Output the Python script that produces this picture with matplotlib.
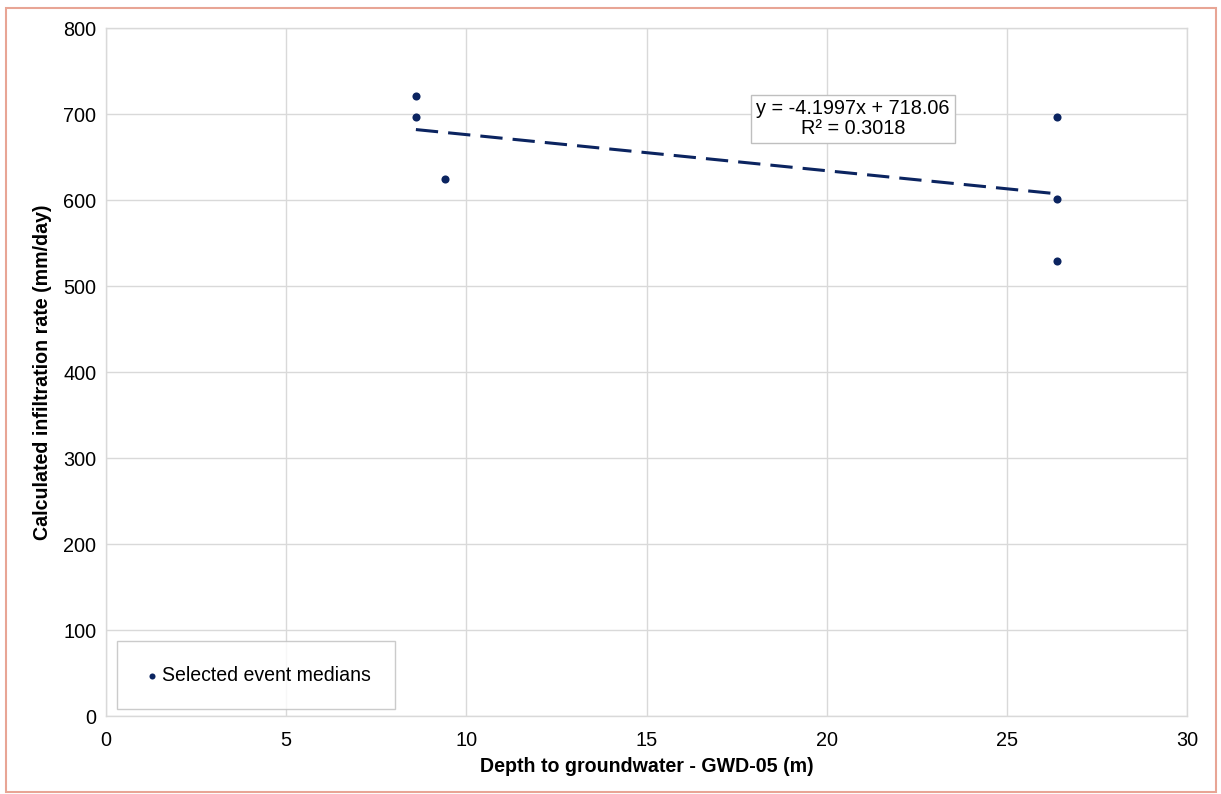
import matplotlib
matplotlib.use("Agg")
import matplotlib.pyplot as plt
from matplotlib.patches import Rectangle
import numpy as np

plt.rcParams['font.family'] = ['Liberation Sans', 'DejaVu Sans']

# Event medians: depth to groundwater (m) vs calculated infiltration rate (mm/day)
depth_m = [8.6, 8.6, 9.4, 26.4, 26.4, 26.4]
infiltration_mm_day = [721, 697, 624, 697, 601, 529]

# Linear trend coefficients as reported
slope = -4.1997
intercept = 718.06
r_squared = 0.3018

x_ticks = [0, 5, 10, 15, 20, 25, 30]
y_ticks = [0, 100, 200, 300, 400, 500, 600, 700, 800]

navy = '#0B2460'
grid_col = '#D9D9D9'
fs = 14.3
fs_label = 14.1

fig = plt.figure(figsize=(12.21, 7.94), dpi=100)
ax = fig.add_axes([0.0868, 0.0982, 0.8854, 0.8665])

ax.scatter(depth_m, infiltration_mm_day, s=34, color=navy, zorder=3,
           label='Selected event medians', linewidths=0)

xs = np.array([min(depth_m), max(depth_m)])
ax.plot(xs, slope * xs + intercept, color=navy, lw=2.2,
        dashes=(7.3, 3.3), zorder=2)

ax.set_xlim(0, 30)
ax.set_ylim(0, 800)
ax.set_xticks(x_ticks)
ax.set_yticks(y_ticks)
ax.grid(True, color=grid_col, lw=1)
ax.set_axisbelow(True)
for s in ax.spines.values():
    s.set_color(grid_col)
    s.set_linewidth(1)
ax.tick_params(axis='y', length=0, labelsize=fs, pad=7, colors='black')
ax.tick_params(axis='x', length=0, labelsize=fs, pad=11, colors='black')

ax.set_xlabel('Depth to groundwater - GWD-05 (m)', fontsize=fs_label,
              fontweight='bold', labelpad=4.5)
ax.set_ylabel('Calculated infiltration rate (mm/day)', fontsize=fs_label,
              fontweight='bold', labelpad=8)

ax.text(0.691, 0.868, f'y = {slope}x + {intercept:.2f}\nR² = {r_squared}',
        transform=ax.transAxes, ha='center', va='center', fontsize=fs,
        linespacing=1.05,
        bbox=dict(boxstyle='square,pad=0.25', fc='white', ec='#BFBFBF', lw=1))

leg = ax.legend(loc='lower left', bbox_to_anchor=(0.010, 0.010),
                fontsize=fs * 0.985, frameon=True, fancybox=False,
                handletextpad=0.0, borderpad=1.25, markerscale=0.75,
                handlelength=1.05, borderaxespad=0)
leg.get_frame().set_edgecolor('#BFBFBF')
leg.get_frame().set_linewidth(1)

fig.patches.append(Rectangle((6 / 1221, 0.002), 1210 / 1221, 1 - 8 / 794 - 0.002,
                             transform=fig.transFigure, fill=False,
                             ec='#E8A595', lw=1.5))

fig.savefig('out.png', dpi=100, facecolor='white')
